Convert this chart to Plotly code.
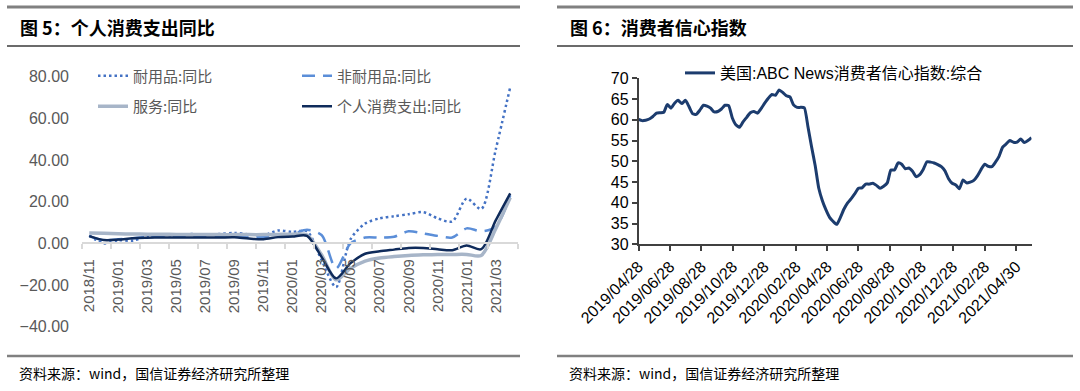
import plotly.graph_objects as go
import pandas as pd

W, H = 1080, 391


def px(x):
    return x / W


def py(y):
    return 1 - y / H


# ---------------- Left chart data (monthly, YoY %) ----------------
months = ['2018/11', '2018/12', '2019/01', '2019/02', '2019/03', '2019/04', '2019/05', '2019/06',
          '2019/07', '2019/08', '2019/09', '2019/10', '2019/11', '2019/12', '2020/01', '2020/02',
          '2020/03', '2020/04', '2020/05', '2020/06', '2020/07', '2020/08', '2020/09', '2020/10',
          '2020/11', '2020/12', '2021/01', '2021/02', '2021/03', '2021/04']
durable = [3.8, 0.0, 1.5, 1.3, 3.5, 3.8, 4.0, 4.5, 4.2, 4.5, 5.0, 4.3, 3.8, 6.2, 5.5,
           5.8, -8.0, -21.0, 2.0, 9.5, 12.0, 13.0, 14.0, 15.0, 12.0, 10.5, 21.5, 16.5, 45.0, 75.0]
nondurable = [3.5, 1.5, 2.0, 2.5, 3.0, 3.2, 3.3, 3.3, 3.4, 3.5, 3.5, 3.0, 3.0, 4.0, 4.5,
              6.5, 4.0, -12.0, 0.0, 2.8, 2.8, 3.2, 5.8, 4.8, 3.6, 2.8, 7.2, 5.8, 8.0, 23.0]
services = [5.0, 4.8, 4.6, 4.5, 4.4, 4.4, 4.3, 4.3, 4.3, 4.2, 4.2, 4.2, 4.2, 4.3, 4.4,
            4.0, -5.5, -17.5, -12.0, -8.5, -7.0, -6.3, -5.8, -5.5, -5.3, -5.3, -5.3, -5.8, 7.0, 22.0]
pce = [3.5, 1.6, 1.8, 2.5, 2.7, 2.8, 2.8, 2.8, 2.8, 2.8, 2.9, 2.3, 2.0, 3.0, 3.3,
       3.6, -6.5, -16.8, -9.5, -5.0, -3.8, -3.0, -2.2, -2.2, -2.8, -3.3, -1.0, -2.8, 11.0, 24.0]

# ---------------- Right chart data (weekly) ----------------
conf_start = "2019-04-28"
confidence = [60.1, 59.8, 59.9, 60.2, 60.8, 61.6, 61.7, 61.8, 63.7, 62.8,
              64.0, 64.7, 63.9, 64.7, 63.2, 61.5, 61.3, 62.3, 63.5, 63.3,
              62.8, 61.9, 62.0, 62.6, 63.5, 63.4, 60.5, 58.8, 58.2, 59.5,
              60.6, 61.7, 62.0, 61.6, 62.7, 64.0, 65.2, 66.1, 65.9, 67.2,
              66.6, 65.8, 65.5, 63.6, 63.0, 63.0, 62.9, 58.3, 53.5, 49.0,
              43.5, 40.5, 38.3, 36.5, 35.5, 34.8, 36.5, 38.5, 40.0, 41.0,
              42.2, 43.5, 43.6, 44.5, 44.5, 44.7, 44.2, 43.5, 44.0, 44.8,
              47.9, 47.9, 49.6, 49.3, 48.2, 48.4, 47.6, 46.3, 46.8, 48.1,
              49.9, 49.8, 49.6, 49.2, 48.7, 47.7, 45.8, 44.7, 44.3, 43.4,
              45.5, 44.8, 45.0, 45.4, 46.5, 48.0, 49.3, 48.8, 48.7, 49.8,
              51.2, 53.4, 54.2, 55.0, 54.6, 54.6, 55.4, 54.5, 55.0, 55.7]
conf_ticks = ['2019/04/28', '2019/06/28', '2019/08/28', '2019/10/28', '2019/12/28', '2020/02/28',
              '2020/04/28', '2020/06/28', '2020/08/28', '2020/10/28', '2020/12/28', '2021/02/28',
              '2021/04/30']

idx = list(range(len(months)))
conf_dates = pd.date_range(conf_start, periods=len(confidence), freq="7D")

fig = go.Figure()


def sp(color, width, dash="solid"):
    return dict(color=color, width=width, dash=dash, shape="spline", smoothing=0.8)


fig.add_trace(go.Scatter(x=idx, y=durable, name="耐用品:同比", mode="lines", showlegend=True,
                         line=sp("#4472C4", 2.5, "2.5px,3px"), xaxis="x", yaxis="y", legend="legend"))
fig.add_trace(go.Scatter(x=idx, y=nondurable, name="非耐用品:同比", mode="lines", showlegend=True,
                         line=sp("#5B8ED8", 2.5, "13px,8px"), xaxis="x", yaxis="y", legend="legend2"))
fig.add_trace(go.Scatter(x=idx, y=services, name="服务:同比", mode="lines", showlegend=True,
                         line=sp("#A7B5C8", 3.5), xaxis="x", yaxis="y", legend="legend3"))
fig.add_trace(go.Scatter(x=idx, y=pce, name="个人消费支出:同比", mode="lines", showlegend=True,
                         line=sp("#0F2B5B", 2.5), xaxis="x", yaxis="y", legend="legend4"))

fig.add_trace(go.Scatter(x=conf_dates, y=confidence, name="美国:ABC News消费者信心指数:综合",
                         mode="lines", showlegend=True,
                         line=dict(color="#1C3C6E", width=3, shape="spline", smoothing=0.5),
                         xaxis="x2", yaxis="y2", legend="legend5"))

cjk = "Noto Sans CJK SC"
latin = "Liberation Sans, Noto Sans CJK SC"
leg_common = dict(bgcolor="rgba(0,0,0,0)", borderwidth=0, xanchor="left", yanchor="middle",
                  orientation="v", font=dict(family=cjk, size=15, color="#595959"))

shapes = []
for (x0, x1) in [(7, 520), (557, 1073)]:
    shapes.append(dict(type="line", xref="paper", yref="paper", x0=px(x0), x1=px(x1), y0=py(7), y1=py(7),
                       line=dict(color="#808080", width=3)))
    shapes.append(dict(type="line", xref="paper", yref="paper", x0=px(x0), x1=px(x1), y0=py(46), y1=py(46),
                       line=dict(color="#3A3A3A", width=1.5)))
    shapes.append(dict(type="line", xref="paper", yref="paper", x0=px(x0), x1=px(x1), y0=py(356), y1=py(356),
                       line=dict(color="#808080", width=2.5)))

annotations = [
    dict(text="<b>图 5：个人消费支出同比</b>", x=px(18), y=py(27)),
    dict(text="<b>图 6：消费者信心指数</b>", x=px(568), y=py(27)),
]
annotations = [dict(a, xref="paper", yref="paper", xanchor="left", yanchor="middle", showarrow=False,
                    font=dict(family=cjk, size=18, color="#000")) for a in annotations]
for x in (17, 567):
    annotations.append(dict(text="资料来源：wind，国信证券经济研究所整理", x=px(x), y=py(373),
                            xref="paper", yref="paper", xanchor="left", yanchor="middle", showarrow=False,
                            font=dict(family=cjk, size=14, color="#000")))

fig.update_layout(
    width=W, height=H, margin=dict(l=0, r=0, t=0, b=0),
    paper_bgcolor="white", plot_bgcolor="white", template="none", showlegend=True,
    shapes=shapes, annotations=annotations,
    legend=dict(x=px(93), y=py(76), **leg_common),
    legend2=dict(x=px(297), y=py(76), **leg_common),
    legend3=dict(x=px(93), y=py(106.5), **leg_common),
    legend4=dict(x=px(297), y=py(106.5), **leg_common),
    legend5=dict(x=px(680), y=py(73), bgcolor="rgba(0,0,0,0)", borderwidth=0, xanchor="left",
                 yanchor="middle", font=dict(family=latin, size=16, color="#000")),
    xaxis=dict(domain=[px(82), px(517.5)], range=[-0.5, len(months) - 0.5], anchor="free",
               position=py(243.3), tickmode="array", tickvals=idx[::2], ticktext=months[::2],
               tickangle=-90, tickfont=dict(family=latin, size=15, color="#595959"),
               showline=True, linecolor="#D9D9D9", linewidth=1.5, ticks="", showgrid=False,
               zeroline=False, ticklabelstandoff=9,
               minor=dict(tickmode="array", tickvals=[i - 0.5 for i in range(0, len(months) + 1, 2)],
                          ticks="outside", ticklen=5, tickcolor="#D9D9D9", tickwidth=1.5, showgrid=False)),
    yaxis=dict(domain=[py(326.7), py(76.7)], range=[-40, 80], tick0=0, dtick=20, tickformat=".2f",
               showgrid=False, zeroline=False, showline=False, ticks="", anchor="x",
               tickfont=dict(family=latin, size=16, color="#595959"), ticklabelstandoff=12),
    xaxis2=dict(domain=[px(638.5), px(1031.5)], type="date", range=[conf_dates[0], conf_dates[-1]],
                tickmode="array", tickvals=[t.replace("/", "-") for t in conf_ticks], ticktext=conf_ticks,
                tickangle=-45, ticks="outside", ticklen=5, tickcolor="#404040", tickwidth=1.5,
                showline=True, linecolor="#404040", linewidth=1.5, showgrid=False, zeroline=False,
                anchor="y2", tickfont=dict(family=latin, size=16, color="#000")),
    yaxis2=dict(domain=[py(244.3), py(78.3)], range=[30, 70], tick0=30, dtick=5, ticks="outside",
                ticklen=5, tickcolor="#404040", tickwidth=1.5, showline=True, linecolor="#404040",
                linewidth=1.5, showgrid=False, zeroline=False, anchor="x2",
                tickfont=dict(family=latin, size=16, color="#000")),
)

fig.write_html("out.html", config={"displayModeBar": False},
               post_script="document.body.style.margin='0px';document.body.style.overflow='hidden';")
